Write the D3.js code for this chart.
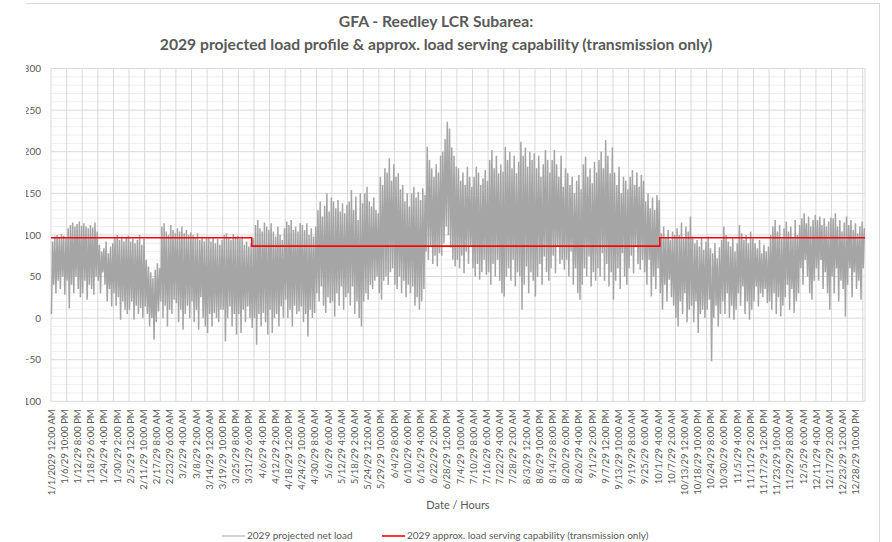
<!DOCTYPE html>
<html>
<head>
<meta charset="utf-8">
<script src="https://cdn.jsdelivr.net/npm/d3@7"></script>
<style>
  body { margin: 0; background: #fff; }
  svg { font-family: Lato, "Liberation Sans", sans-serif; }
</style>
</head>
<body>
<div id="chart"></div>
<script>
// daily max / min of the 2029 projected net load, one value per day
const dailyMax = [
  92, 98, 100, 97, 101, 99, 96,
  108, 112, 115, 110, 113, 116, 111,
  114, 110, 108, 112, 109, 115, 104,
  88, 80, 84, 92, 78, 86, 90,
  96, 100, 94, 98, 92, 97, 99,
  92, 96, 90, 94, 100, 88, 95,
  70, 62, 55, 48, 58, 66, 60,
  110, 114, 104, 100, 112, 106, 102,
  108, 104, 110, 102, 106, 100, 103,
  100, 96, 102, 94, 98, 92, 96,
  96, 92, 97, 90, 95, 88, 94,
  100, 102, 96, 94, 101, 98, 99,
  95, 98, 88, 92, 86, 90, 96,
  112, 118, 108, 104, 115, 110, 106,
  114, 104, 98, 110, 100, 94, 108,
  116, 112, 118, 106, 110, 104, 114,
  112, 106, 114, 100, 108, 98, 110,
  130, 140, 122, 135, 150, 128, 145,
  140, 132, 142, 128, 138, 126, 136,
  140, 154, 130, 146, 118, 150, 138,
  150, 158, 140, 134, 145, 130, 126,
  170, 160, 180, 175, 192, 165, 185,
  170, 174, 155, 160, 140, 150, 134,
  150, 158, 145, 152, 142, 156, 148,
  206, 190, 180, 170, 185, 175, 195,
  200, 215, 236, 228, 205, 195, 182,
  180, 165, 175, 160, 182, 170, 158,
  170, 182, 175, 160, 168, 178, 165,
  190, 202, 180, 195, 174, 185, 176,
  206, 190, 200, 180, 195, 174, 188,
  212, 195, 205, 182, 200, 190, 198,
  180, 195, 170, 185, 202, 190, 175,
  190, 202, 185, 170, 195, 158, 180,
  174, 160, 170, 150, 165, 172, 155,
  185, 194, 170, 180, 162, 188, 175,
  190, 200, 180, 214, 195, 174, 205,
  175, 160, 182, 150, 170, 165, 155,
  170, 178, 160, 175, 158, 172, 165,
  140, 150, 132, 145, 130, 148, 142,
  102, 110, 96, 106, 94, 104, 100,
  108, 100, 115, 96, 110, 104, 122,
  98, 90, 94, 86, 96, 82, 92,
  98, 84, 78, 90, 72, 85, 94,
  110, 100, 92, 86, 96, 80, 90,
  112, 102, 94, 100, 90, 104, 96,
  90, 84, 94, 78, 88, 80, 86,
  100, 110, 118, 104, 112, 96, 108,
  116, 104, 110, 96, 118, 100, 112,
  120, 126, 114, 122, 110, 118, 124,
  118, 122, 112, 120, 110, 116, 121,
  120, 126, 110, 118, 104, 115, 122,
  112, 118, 106, 114, 102, 110, 116,
  108
];
const dailyMin = [
  5, 40, 30, 45, 35, 50, 28,
  45, 12, 40, 30, 50, 35, 25,
  30, 45, 22, 40, 35, 28, 50,
  45, 30, 55, 40, 20, 35, 14,
  30, 15, 25, -2, 20, 10, 5,
  10, 20, -2, 15, 5, 12, 0,
  14, 5, -10, 0, -26, -5, 8,
  20, 0, 15, -10, 10, 5, 22,
  18, -5, 10, -14, 5, 15, 0,
  20, -5, 10, -14, 25, 0, -10,
  -18, 5, -10, 6, 0, -5, 10,
  10, -28, 0, 14, -10, 5, -20,
  5, -18, 10, -5, 14, 0, -12,
  0, -32, 5, -10, 6, -5, -20,
  10, -18, 0, 5, -10, 14, 0,
  22, 0, 10, -10, 15, 5, 8,
  14, -5, 5, -22, 10, 0, 6,
  30, 20, 38, 15, 6, 25, 18,
  20, 2, 30, 15, 38, 10, 25,
  30, 15, 38, 5, 20, 0, -10,
  20, 30, 22, 40, 35, 45, 50,
  30, 22, 45, 50, 40, 55, 60,
  40, 35, 50, 30, 45, 25, 40,
  30, 38, 15, 25, 10, 20, 35,
  80, 70, 86, 65, 75, 62, 78,
  75, 90, 110, 100, 85, 70, 62,
  70, 60, 75, 54, 80, 65, 86,
  60, 50, 65, 46, 55, 70, 52,
  55, 40, 65, 50, 70, 45, 30,
  26, 50, 60, 45, 70, 38, 55,
  50, 10, 40, 62, 30, 55, 45,
  26, 50, 65, 40, 74, 55, 45,
  60, 75, 54, 86, 65, 70, 58,
  70, 50, 80, 40, 60, 30, 22,
  40, 60, 50, 74, 38, 55, 45,
  60, 50, 78, 45, 65, 38, 55,
  22, 45, 60, 35, 78, 50, 40,
  60, 75, 54, 86, 65, 58, 70,
  55, 40, 70, 26, 50, 35, 60,
  30, 10, 40, 20, 46, 25, 15,
  0, -10, 20, 5, 30, -5, 10,
  15, -5, 20, -18, 5, 10, 0,
  10, 22, -52, 0, 15, -10, 5,
  20, 5, 30, 0, 15, -2, 10,
  30, 15, 38, 5, 20, -2, 10,
  20, 38, 14, 30, 25, 35, 18,
  20, 10, 30, 5, 25, 2, 15,
  25, 40, 10, 35, 6, 20, 30,
  60, 40, 70, 50, 30, 22, 45,
  60, 45, 70, 35, 55, 30, 10,
  50, 30, 60, 20, 45, 35, 2,
  40, 60, 25, 55, 35, 45, 22,
  60
];

// approx. load serving capability: hour it starts, value
const capStartHour = [0, 2160, 6552];
const capValue = [96.5, 86.5, 96.5];

const totalHours = 8760;
const labelStep = 142;
const tickLabels = [
  "1/1/2029 12:00 AM", "1/6/29 10:00 PM", "1/12/29 8:00 PM", "1/18/29 6:00 PM",
  "1/24/29 4:00 PM", "1/30/29 2:00 PM", "2/5/29 12:00 PM", "2/11/29 10:00 AM",
  "2/17/29 8:00 AM", "2/23/29 6:00 AM", "3/2/29 4:00 AM", "3/8/29 2:00 AM",
  "3/14/29 12:00 AM", "3/19/29 10:00 PM", "3/25/29 8:00 PM", "3/31/29 6:00 PM",
  "4/6/29 4:00 PM", "4/12/29 2:00 PM", "4/18/29 12:00 PM", "4/24/29 10:00 AM",
  "4/30/29 8:00 AM", "5/6/29 6:00 AM", "5/12/29 4:00 AM", "5/18/29 2:00 AM",
  "5/24/29 12:00 AM", "5/29/29 10:00 PM", "6/4/29 8:00 PM", "6/10/29 6:00 PM",
  "6/16/29 4:00 PM", "6/22/29 2:00 PM", "6/28/29 12:00 PM", "7/4/29 10:00 AM",
  "7/10/29 8:00 AM", "7/16/29 6:00 AM", "7/22/29 4:00 AM", "7/28/29 2:00 AM",
  "8/3/29 12:00 AM", "8/8/29 10:00 PM", "8/14/29 8:00 PM", "8/20/29 6:00 PM",
  "8/26/29 4:00 PM", "9/1/29 2:00 PM", "9/7/29 12:00 PM", "9/13/29 10:00 AM",
  "9/19/29 8:00 AM", "9/25/29 6:00 AM", "10/1/29 4:00 AM", "10/7/29 2:00 AM",
  "10/13/29 12:00 AM", "10/18/29 10:00 PM", "10/24/29 8:00 PM", "10/30/29 6:00 PM",
  "11/5/29 4:00 PM", "11/11/29 2:00 PM", "11/17/29 12:00 PM", "11/23/29 10:00 AM",
  "11/29/29 8:00 AM", "12/5/29 6:00 AM", "12/11/29 4:00 AM", "12/17/29 2:00 AM",
  "12/23/29 12:00 AM", "12/28/29 10:00 PM"
];
const yTicks = [300, 250, 200, 150, 100, 50, 0, -50, -100];

const width = 892, height = 542;
const plot = { left: 51, right: 865, top: 68.5, bottom: 401.3 };
const textColor = "#595959";

const svg = d3.select("#chart").append("svg")
  .attr("width", width)
  .attr("height", height);

svg.append("clipPath").attr("id", "frame")
  .append("rect").attr("x", 26).attr("y", 0).attr("width", 854).attr("height", height);

const g = svg.append("g").attr("clip-path", "url(#frame)");

// chart border
g.append("rect")
  .attr("x", 25.5).attr("y", 3.5)
  .attr("width", 854).attr("height", 600)
  .attr("fill", "none").attr("stroke", "#d9d9d9");

const x = d3.scaleLinear().domain([0, totalHours]).range([plot.left, plot.right]);
const y = d3.scaleLinear().domain([-100, 300]).range([plot.bottom, plot.top]);

// gridlines
const minorY = d3.range(-100, 301, 10).filter((v) => v % 50 !== 0);
g.append("g").selectAll("line").data(minorY).join("line")
  .attr("x1", plot.left).attr("x2", plot.right)
  .attr("y1", (d) => y(d)).attr("y2", (d) => y(d))
  .attr("stroke", "#efefef").attr("stroke-width", 1);

const weekHours = d3.range(0, totalHours, 168).concat([totalHours]);
g.append("g").selectAll("line").data(weekHours).join("line")
  .attr("x1", (d) => x(d)).attr("x2", (d) => x(d))
  .attr("y1", plot.top).attr("y2", plot.bottom)
  .attr("stroke", "#d9d9d9").attr("stroke-width", 1);

g.append("g").selectAll("line").data(yTicks).join("line")
  .attr("x1", plot.left).attr("x2", plot.right)
  .attr("y1", (d) => y(d)).attr("y2", (d) => y(d))
  .attr("stroke", "#d9d9d9").attr("stroke-width", 1);

// y axis labels
const yAxis = g.append("g")
  .attr("transform", `translate(${plot.left - 10},0)`)
  .call(d3.axisLeft(y).tickValues(yTicks).tickSize(0).tickPadding(0));
yAxis.select(".domain").remove();
yAxis.selectAll("text")
  .attr("fill", textColor)
  .style("font-size", "10px")
  .style("font-family", "Lato, sans-serif");

// x axis labels
const labelHours = tickLabels.map((d, i) => i * labelStep);
const xAxis = g.append("g")
  .attr("transform", `translate(0,${plot.bottom + 8})`)
  .call(d3.axisBottom(x).tickValues(labelHours)
    .tickFormat((d, i) => tickLabels[i]).tickSize(0).tickPadding(0));
xAxis.select(".domain").remove();
xAxis.selectAll("text")
  .attr("fill", textColor)
  .attr("transform", "rotate(-90)")
  .attr("text-anchor", "end")
  .attr("x", 0).attr("y", 0).attr("dx", 0).attr("dy", "0.32em")
  .style("font-size", "9.5px")
  .style("font-family", "Lato, sans-serif");

// net load series: each day goes from its low to its high
const loadPoints = [];
dailyMax.forEach((mx, d) => {
  loadPoints.push([d * 24 + 5, dailyMin[d]]);
  loadPoints.push([d * 24 + 17, mx]);
});
const line = d3.line().x((d) => x(d[0])).y((d) => y(d[1]));
g.append("path")
  .datum(loadPoints)
  .attr("d", line)
  .attr("fill", "none")
  .attr("stroke", "#a5a5a5")
  .attr("stroke-width", 1.5);

// capability step line
const capPoints = capStartHour.map((h, i) => [h, capValue[i]]);
capPoints.push([totalHours, capValue[capValue.length - 1]]);
g.append("path")
  .datum(capPoints)
  .attr("d", d3.line().curve(d3.curveStepAfter).x((d) => x(d[0])).y((d) => y(d[1])))
  .attr("fill", "none")
  .attr("stroke", "#ff0000")
  .attr("stroke-width", 1.6);

// titles
const title = g.append("text")
  .attr("x", 436).attr("text-anchor", "middle")
  .attr("fill", textColor)
  .style("font-size", "15.7px").style("font-weight", "bold");
title.append("tspan").attr("x", 436).attr("y", 27).text("GFA - Reedley LCR Subarea:");
title.append("tspan").attr("x", 436).attr("y", 50)
  .text("2029 projected load profile & approx. load serving capability (transmission only)");

g.append("text")
  .attr("x", 458).attr("y", 509)
  .attr("text-anchor", "middle")
  .attr("fill", textColor)
  .style("font-size", "11px")
  .text("Date / Hours");

// legend
const legend = [
  { label: "2029 projected net load", color: "#a5a5a5", x: 222, w: 1 },
  { label: "2029 approx. load serving capability (transmission only)", color: "#ff0000", x: 382, w: 1.6 }
];
const lg = g.append("g").selectAll("g").data(legend).join("g")
  .attr("transform", (d) => `translate(${d.x},536)`);
lg.append("line").attr("x1", 0).attr("x2", 23)
  .attr("stroke", (d) => d.color).attr("stroke-width", (d) => d.w);
lg.append("text").attr("x", 25).attr("dy", "0.32em")
  .attr("fill", textColor)
  .style("font-size", "10px")
  .text((d) => d.label);
</script>
</body>
</html>
